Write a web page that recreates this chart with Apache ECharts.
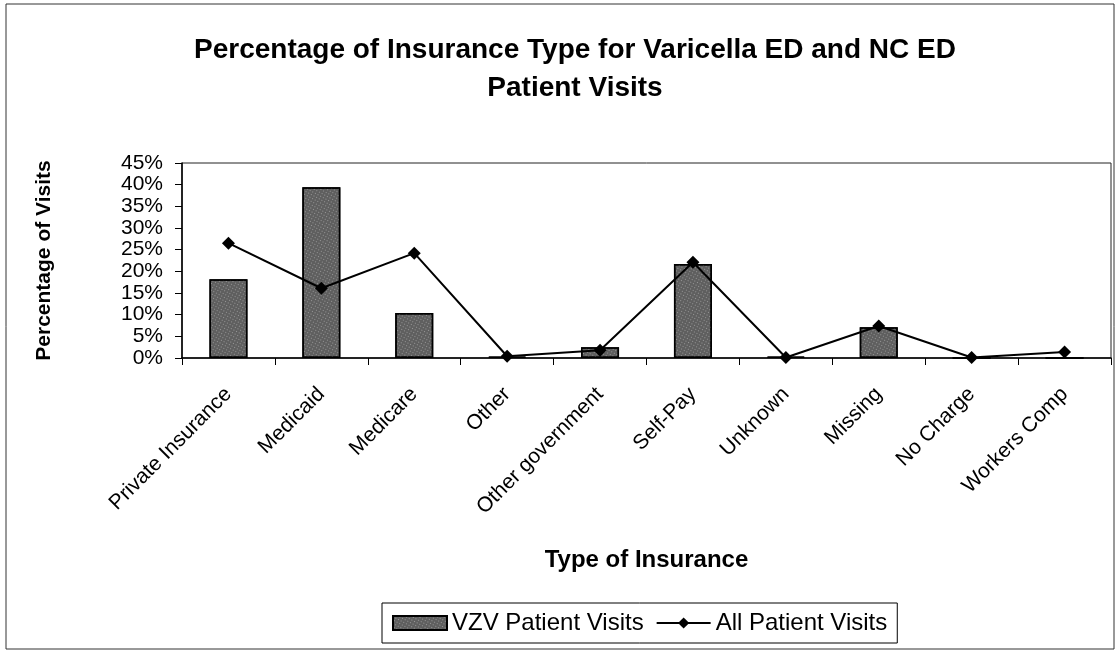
<!DOCTYPE html>
<html>
<head>
<meta charset="utf-8">
<title>Insurance Type</title>
<script src="https://cdn.jsdelivr.net/npm/echarts@6/dist/echarts.min.js"></script>
<style>
  html, body { margin: 0; padding: 0; background: #fff; }
  #chart { width: 1119px; height: 652px; }
</style>
</head>
<body>
<div id="chart"></div>
<script>
let categories = ['Private Insurance', 'Medicaid', 'Medicare', 'Other', 'Other government', 'Self-Pay', 'Unknown', 'Missing', 'No Charge', 'Workers Comp']
let vzvVisits = [18.2, 39.4, 10.4, 0.3, 2.5, 21.7, 0.3, 7.1, 0, 0]
let allVisits = [26.5, 16.1, 24.2, 0.4, 1.8, 22.1, 0.1, 7.4, 0.1, 1.4]
let yTicks = { min: 0, max: 45, interval: 5 }

let font = '"Liberation Sans", Arial, sans-serif'
let chartsInstance = echarts.init(document.getElementById('chart'))

let option = {
  textStyle: { fontFamily: font, color: '#000' },
  animation: false,
  title: {
    text: 'Percentage of Insurance Type for Varicella ED and NC ED\nPatient Visits',
    left: 570,
    top: 26,
    textAlign: 'center',
    textStyle: {
      fontFamily: font,
      fontSize: 28,
      fontWeight: 'bold',
      color: '#000',
      lineHeight: 38
    }
  },
  legend: {
    left: 382,
    top: 603,
    padding: [8, 10],
    borderColor: '#000',
    borderWidth: 1,
    itemWidth: 54,
    itemHeight: 14,
    itemGap: 12,
    textStyle: { fontFamily: font, fontSize: 24, color: '#000' },
    data: [
      { name: 'VZV Patient Visits', icon: 'rect' },
      { name: 'All Patient Visits' }
    ]
  },
  grid: {
    left: 182,
    right: 8,
    top: 163,
    bottom: 294,
    show: true,
    borderColor: '#222',
    borderWidth: 1
  },
  xAxis: {
    type: 'category',
    data: categories,
    name: 'Type of Insurance',
    nameLocation: 'middle',
    nameGap: 190,
    nameTextStyle: { fontFamily: font, fontSize: 24, fontWeight: 'bold', color: '#000' },
    axisLine: { lineStyle: { color: '#000', width: 1.5 } },
    axisTick: { show: true, length: 7, lineStyle: { color: '#000' } },
    axisLabel: {
      rotate: 45,
      interval: 0,
      margin: 33,
      fontFamily: font,
      fontSize: 21,
      color: '#000'
    }
  },
  yAxis: {
    type: 'value',
    min: yTicks.min,
    max: yTicks.max,
    interval: yTicks.interval,
    name: 'Percentage of Visits',
    nameLocation: 'middle',
    nameGap: 127,
    nameTextStyle: { fontFamily: font, fontSize: 21, fontWeight: 'bold', color: '#000' },
    axisLine: { show: true, lineStyle: { color: '#000', width: 1.5 } },
    axisTick: { show: true, length: 7, lineStyle: { color: '#000' } },
    splitLine: { show: false },
    axisLabel: {
      margin: 19,
      fontFamily: font,
      fontSize: 21,
      color: '#000',
      formatter: '{value}%'
    }
  },
  series: [
    {
      name: 'VZV Patient Visits',
      type: 'bar',
      data: vzvVisits,
      barWidth: 38,
      itemStyle: {
        color: '#5f5f5f',
        borderColor: '#000',
        borderWidth: 1.5,
        decal: {
          symbol: 'rect',
          symbolSize: 1,
          dashArrayX: [1, 2],
          dashArrayY: [1, 2],
          rotation: 0.5,
          color: 'rgba(255,255,255,0.35)'
        }
      }
    },
    {
      name: 'All Patient Visits',
      type: 'line',
      data: allVisits,
      symbol: 'diamond',
      symbolSize: 13,
      itemStyle: { color: '#000' },
      lineStyle: { color: '#000', width: 2 },
      z: 5
    }
  ],
  graphic: [
    {
      type: 'rect',
      shape: { x: 6, y: 4, width: 1108, height: 645 },
      style: { fill: null, stroke: '#333', lineWidth: 1 },
      silent: true
    }
  ]
}

chartsInstance.setOption(option)
window.addEventListener('resize', () => chartsInstance.resize())
</script>
</body>
</html>
